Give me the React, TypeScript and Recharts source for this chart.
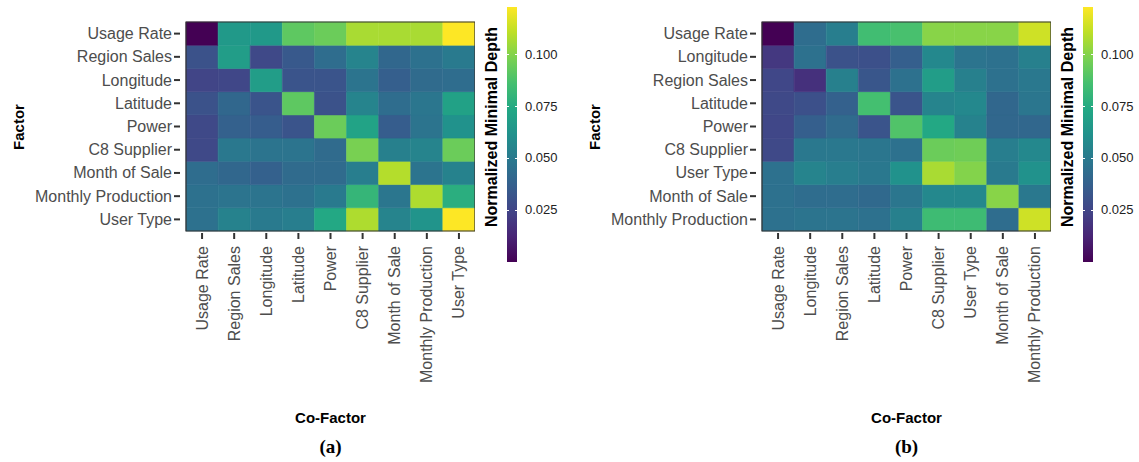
import { BarChart, Bar, Cell, XAxis, YAxis, ReferenceArea } from 'recharts'

// factor order (rows, top to bottom) and co-factor order (columns) for panel (a)
const factorsA = [
  'Usage Rate', 'Region Sales', 'Longitude', 'Latitude', 'Power',
  'C8 Supplier', 'Month of Sale', 'Monthly Production', 'User Type',
]
const depthA = [
  [0.000, 0.066, 0.066, 0.092, 0.095, 0.107, 0.107, 0.107, 0.123],
  [0.031, 0.068, 0.027, 0.034, 0.044, 0.055, 0.041, 0.046, 0.050],
  [0.025, 0.026, 0.068, 0.032, 0.032, 0.047, 0.037, 0.043, 0.044],
  [0.031, 0.041, 0.032, 0.092, 0.031, 0.055, 0.044, 0.048, 0.070],
  [0.027, 0.038, 0.036, 0.032, 0.095, 0.071, 0.036, 0.047, 0.062],
  [0.027, 0.049, 0.047, 0.047, 0.043, 0.098, 0.053, 0.055, 0.095],
  [0.044, 0.041, 0.038, 0.043, 0.043, 0.052, 0.109, 0.047, 0.054],
  [0.046, 0.047, 0.047, 0.046, 0.050, 0.081, 0.048, 0.108, 0.077],
  [0.046, 0.054, 0.050, 0.052, 0.074, 0.108, 0.055, 0.063, 0.123],
]

// panel (b)
const factorsB = [
  'Usage Rate', 'Longitude', 'Region Sales', 'Latitude', 'Power',
  'C8 Supplier', 'User Type', 'Month of Sale', 'Monthly Production',
]
const depthB = [
  [0.000, 0.044, 0.052, 0.085, 0.087, 0.101, 0.101, 0.101, 0.114],
  [0.020, 0.046, 0.031, 0.030, 0.037, 0.057, 0.047, 0.046, 0.053],
  [0.026, 0.017, 0.053, 0.033, 0.046, 0.068, 0.053, 0.046, 0.049],
  [0.027, 0.030, 0.038, 0.086, 0.032, 0.055, 0.057, 0.041, 0.048],
  [0.026, 0.037, 0.043, 0.032, 0.089, 0.074, 0.054, 0.041, 0.041],
  [0.027, 0.049, 0.049, 0.048, 0.046, 0.095, 0.096, 0.052, 0.057],
  [0.046, 0.055, 0.052, 0.049, 0.062, 0.107, 0.100, 0.050, 0.062],
  [0.046, 0.044, 0.044, 0.042, 0.048, 0.057, 0.057, 0.101, 0.049],
  [0.046, 0.047, 0.047, 0.046, 0.053, 0.084, 0.084, 0.044, 0.114],
]

const depthTicks = [0.025, 0.05, 0.075, 0.1]
const DEPTH_MIN = 0
const DEPTH_MAX = 0.123

const VIRIDIS = [
  '#440154', '#482475', '#414487', '#355f8d', '#2a788e', '#21918c',
  '#22a884', '#44bf70', '#7ad151', '#bddf26', '#fde725',
]

const hexToRgb = (h: string) => [1, 3, 5].map((i) => parseInt(h.slice(i, i + 2), 16))

function viridis(v: number) {
  const t = Math.min(1, Math.max(0, (v - DEPTH_MIN) / (DEPTH_MAX - DEPTH_MIN)))
  const s = t * (VIRIDIS.length - 1)
  const i = Math.min(VIRIDIS.length - 2, Math.floor(s))
  const f = s - i
  const a = hexToRgb(VIRIDIS[i])
  const b = hexToRgb(VIRIDIS[i + 1])
  const c = a.map((x, k) => Math.round(x + (b[k] - x) * f))
  return `rgb(${c[0]},${c[1]},${c[2]})`
}

const FONT = '"Liberation Sans", Arial, Helvetica, sans-serif'
const PLOT_LEFT = 186
const PLOT_W = 289
const PLOT_TOP = 22
const PLOT_H = 209
const BAR_TOP = 7
const BAR_H = 255

function RowTick({ x, y, payload, labels }: any) {
  const label = labels[Math.round(labels.length - 0.5 - payload.value)]
  return (
    <g>
      <line x1={x + 2} x2={x + 8} y1={y} y2={y} stroke="#333" strokeWidth={2} />
      <text x={x} y={y} textAnchor="end" dominantBaseline="central"
        fontFamily={FONT} fontSize={16} fill="#4d4d4d">{label}</text>
    </g>
  )
}

function ColTick({ x, y, payload }: any) {
  return (
    <g>
      <line x1={x} x2={x} y1={y + 2} y2={y + 8} stroke="#333" strokeWidth={2} />
      <text x={x} y={y + 15} transform={`rotate(-90 ${x} ${y + 15})`} textAnchor="end"
        dominantBaseline="central" fontFamily={FONT} fontSize={16} fill="#4d4d4d">
        {payload.value}
      </text>
    </g>
  )
}

function DepthBar({ left }: { left: number }) {
  const yOf = (v: number) => BAR_H - ((v - DEPTH_MIN) / (DEPTH_MAX - DEPTH_MIN)) * BAR_H
  return (
    <>
      <div style={{
        position: 'absolute', left, top: BAR_TOP, width: 10, height: BAR_H,
        background: `linear-gradient(to top, ${VIRIDIS.join(',')})`,
      }} />
      {depthTicks.map((v) => (
        <div key={v}>
          <div style={{ position: 'absolute', left, top: BAR_TOP + yOf(v) - 0.5, width: 2, height: 1, background: '#fff' }} />
          <div style={{ position: 'absolute', left: left + 8, top: BAR_TOP + yOf(v) - 0.5, width: 2, height: 1, background: '#fff' }} />
          <div style={{
            position: 'absolute', left: left + 18, top: BAR_TOP + yOf(v) - 8, fontFamily: FONT,
            fontSize: 13, lineHeight: '16px', color: '#222',
          }}>{v.toFixed(3)}</div>
        </div>
      ))}
      <div style={{
        position: 'absolute', left: left - 15, top: 127, transform: 'translate(-50%, -50%) rotate(-90deg)',
        whiteSpace: 'nowrap', fontFamily: FONT, fontSize: 16, fontWeight: 'bold', color: '#000',
      }}>Normalized Minimal Depth</div>
    </>
  )
}

function Heatmap({ left, factors, depth, tag }: {
  left: number; factors: string[]; depth: number[][]; tag: string
}) {
  // one stacked column per co-factor, every cell one unit tall
  const columns = factors.map((name) => {
    const row: Record<string, string | number> = { name }
    factors.forEach((_, i) => { row[`r${i}`] = 1 })
    return row
  })
  const rowTicks = factors.map((_, i) => factors.length - 0.5 - i)
  const stackOrder = factors.map((_, i) => i).reverse()
  const center = PLOT_LEFT + PLOT_W / 2

  return (
    <div style={{ position: 'absolute', left, top: 0, width: PLOT_LEFT + PLOT_W, height: 462 }}>
      <BarChart width={PLOT_LEFT + PLOT_W} height={462} data={columns}
        margin={{ top: PLOT_TOP, right: 0, bottom: 0, left: 0 }}
        barCategoryGap={0} barGap={0}>
        <XAxis dataKey="name" type="category" interval={0} height={462 - PLOT_TOP - PLOT_H}
          axisLine={false} tickLine={false} tickSize={0} tickMargin={0}
          tick={(p: any) => <ColTick {...p} />} />
        <YAxis type="number" domain={[0, factors.length]} ticks={rowTicks} interval={0}
          width={PLOT_LEFT} axisLine={false} tickLine={false} tickSize={0} tickMargin={14}
          tick={(p: any) => <RowTick {...p} labels={factors} />} />
        {stackOrder.map((i) => (
          <Bar key={i} dataKey={`r${i}`} stackId="cells" isAnimationActive={false}>
            {factors.map((_, j) => (
              <Cell key={j} fill={viridis(depth[i][j])} stroke={viridis(depth[i][j])} strokeWidth={0.6} />
            ))}
          </Bar>
        ))}
        <ReferenceArea y1={0} y2={factors.length} fill="none" stroke="#333" strokeWidth={1.2}
          ifOverflow="visible" {...({ zIndex: 1500 } as any)} />
      </BarChart>
      <div style={{
        position: 'absolute', left: 18, top: PLOT_TOP + PLOT_H / 2,
        transform: 'translate(-50%, -50%) rotate(-90deg)', fontFamily: FONT, fontSize: 15,
        fontWeight: 'bold', color: '#000',
      }}>Factor</div>
      <div style={{
        position: 'absolute', left: center, top: 417, transform: 'translate(-50%, -50%)',
        fontFamily: FONT, fontSize: 15, fontWeight: 'bold', color: '#000', whiteSpace: 'nowrap',
      }}>Co-Factor</div>
      <div style={{
        position: 'absolute', left: center, top: 447, transform: 'translate(-50%, -50%)',
        fontFamily: '"Liberation Serif", "Times New Roman", serif', fontSize: 19,
        fontWeight: 'bold', color: '#000',
      }}>{tag}</div>
    </div>
  )
}

export default function App() {
  return (
    <div style={{
      position: 'absolute', left: 0, top: 0, width: 1139, height: 462,
      background: '#fff', overflow: 'hidden',
    }}>
      <Heatmap left={0} factors={factorsA} depth={depthA} tag="(a)" />
      <DepthBar left={507} />
      <Heatmap left={576} factors={factorsB} depth={depthB} tag="(b)" />
      <DepthBar left={1083} />
    </div>
  )
}
